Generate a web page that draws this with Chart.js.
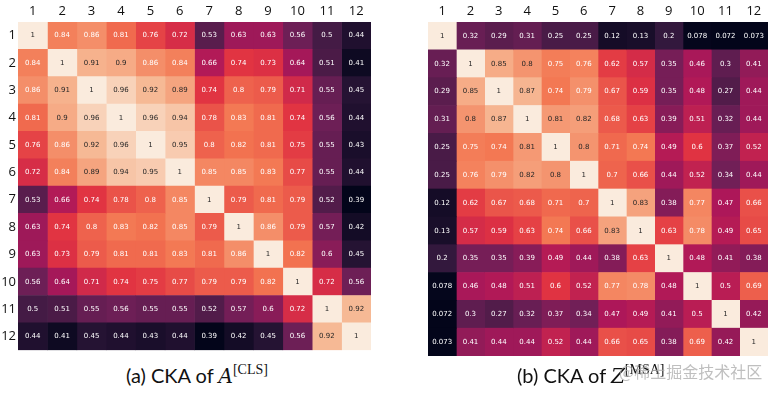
<!DOCTYPE html>
<html>
<head>
<meta charset="utf-8">
<script src="https://cdn.jsdelivr.net/npm/chart.js@4/dist/chart.umd.min.js"></script>
<style>
  body { margin: 0; background: #fff; width: 778px; height: 396px; position: relative; overflow: hidden; }
  .box { position: absolute; top: 0; width: 380px; height: 360px; }
  .cap { position: absolute; top: 362px; font-family: Lato, "Open Sans", sans-serif; font-size: 20px; color: #111; white-space: nowrap; }
  .cap i { font-family: "DejaVu Serif", "Liberation Serif", serif; font-size: 20px; }
  .cap sup { font-family: "Liberation Serif", serif; font-size: 14px; vertical-align: 9px; }
  .wm { position: absolute; top: 359px; left: 619px; font-family: "Noto Sans CJK SC", sans-serif; font-size: 16px; color: rgba(170,170,170,0.75); white-space: nowrap; }
</style>
</head>
<body>
<div class="box" style="left:0"><canvas id="cls"></canvas></div>
<div class="box" style="left:395px"><canvas id="msa"></canvas></div>
<div class="cap" style="left:126px">(a) CKA of <i>A</i><sup>[CLS]</sup></div>
<div class="cap" style="left:517px">(b) CKA of <i>Z</i><sup>[MSA]</sup></div>
<div class="wm">@稀土掘金技术社区</div>
<script>
// layer indices
const layers = ['1', '2', '3', '4', '5', '6', '7', '8', '9', '10', '11', '12'];

// CKA of A[CLS], row by row
const ckaCls = [
  [1, 0.84, 0.86, 0.81, 0.76, 0.72, 0.53, 0.63, 0.63, 0.56, 0.5, 0.44],
  [0.84, 1, 0.91, 0.9, 0.86, 0.84, 0.66, 0.74, 0.73, 0.64, 0.51, 0.41],
  [0.86, 0.91, 1, 0.96, 0.92, 0.89, 0.74, 0.8, 0.79, 0.71, 0.55, 0.45],
  [0.81, 0.9, 0.96, 1, 0.96, 0.94, 0.78, 0.83, 0.81, 0.74, 0.56, 0.44],
  [0.76, 0.86, 0.92, 0.96, 1, 0.95, 0.8, 0.82, 0.81, 0.75, 0.55, 0.43],
  [0.72, 0.84, 0.89, 0.94, 0.95, 1, 0.85, 0.85, 0.83, 0.77, 0.55, 0.44],
  [0.53, 0.66, 0.74, 0.78, 0.8, 0.85, 1, 0.79, 0.81, 0.79, 0.52, 0.39],
  [0.63, 0.74, 0.8, 0.83, 0.82, 0.85, 0.79, 1, 0.86, 0.79, 0.57, 0.42],
  [0.63, 0.73, 0.79, 0.81, 0.81, 0.83, 0.81, 0.86, 1, 0.82, 0.6, 0.45],
  [0.56, 0.64, 0.71, 0.74, 0.75, 0.77, 0.79, 0.79, 0.82, 1, 0.72, 0.56],
  [0.5, 0.51, 0.55, 0.56, 0.55, 0.55, 0.52, 0.57, 0.6, 0.72, 1, 0.92],
  [0.44, 0.41, 0.45, 0.44, 0.43, 0.44, 0.39, 0.42, 0.45, 0.56, 0.92, 1]
];

// CKA of Z[MSA], row by row
const ckaMsa = [
  [1, 0.32, 0.29, 0.31, 0.25, 0.25, 0.12, 0.13, 0.2, 0.078, 0.072, 0.073],
  [0.32, 1, 0.85, 0.8, 0.75, 0.76, 0.62, 0.57, 0.35, 0.46, 0.3, 0.41],
  [0.29, 0.85, 1, 0.87, 0.74, 0.79, 0.67, 0.59, 0.35, 0.48, 0.27, 0.44],
  [0.31, 0.8, 0.87, 1, 0.81, 0.82, 0.68, 0.63, 0.39, 0.51, 0.32, 0.44],
  [0.25, 0.75, 0.74, 0.81, 1, 0.8, 0.71, 0.74, 0.49, 0.6, 0.37, 0.52],
  [0.25, 0.76, 0.79, 0.82, 0.8, 1, 0.7, 0.66, 0.44, 0.52, 0.34, 0.44],
  [0.12, 0.62, 0.67, 0.68, 0.71, 0.7, 1, 0.83, 0.38, 0.77, 0.47, 0.66],
  [0.13, 0.57, 0.59, 0.63, 0.74, 0.66, 0.83, 1, 0.63, 0.78, 0.49, 0.65],
  [0.2, 0.35, 0.35, 0.39, 0.49, 0.44, 0.38, 0.63, 1, 0.48, 0.41, 0.38],
  [0.078, 0.46, 0.48, 0.51, 0.6, 0.52, 0.77, 0.78, 0.48, 1, 0.5, 0.69],
  [0.072, 0.3, 0.27, 0.32, 0.37, 0.34, 0.47, 0.49, 0.41, 0.5, 1, 0.42],
  [0.073, 0.41, 0.44, 0.44, 0.52, 0.44, 0.66, 0.65, 0.38, 0.69, 0.42, 1]
];

// seaborn "rocket" colormap, sampled
const rocketStops = [
  [3, 5, 26], [53, 25, 62], [112, 31, 87], [173, 23, 89],
  [225, 51, 66], [243, 118, 81], [246, 180, 143], [250, 235, 221]
];

function rocket(t) {
  t = Math.max(0, Math.min(1, t));
  const p = t * (rocketStops.length - 1);
  const i = Math.min(Math.floor(p), rocketStops.length - 2);
  const f = p - i;
  const a = rocketStops[i], b = rocketStops[i + 1];
  return a.map((c, k) => Math.round(c + (b[k] - c) * f));
}

function luminance(rgb) {
  const lin = rgb.map(c => {
    c = c / 255;
    return c <= 0.03928 ? c / 12.92 : Math.pow((c + 0.055) / 1.055, 2.4);
  });
  return 0.2126 * lin[0] + 0.7152 * lin[1] + 0.0722 * lin[2];
}

// writes the value on each cell
const cellText = {
  id: 'cellText',
  afterDatasetsDraw(chart) {
    const ctx = chart.ctx;
    ctx.save();
    ctx.font = '7px "DejaVu Sans"';
    ctx.textAlign = 'center';
    ctx.textBaseline = 'middle';
    chart.data.datasets.forEach((ds, di) => {
      chart.getDatasetMeta(di).data.forEach((bar, i) => {
        const p = ds.data[i];
        const rgb = rocket((p.v - ds.vmin) / (ds.vmax - ds.vmin));
        ctx.fillStyle = luminance(rgb) > 0.408 ? '#262626' : '#ffffff';
        const cx = (bar.x + bar.base) / 2;
        ctx.fillText(String(p.v), cx, bar.y);
      });
    });
    ctx.restore();
  }
};

function heatmap(id, matrix, showRows, pad) {
  const all = matrix.flat();
  const vmin = Math.min(...all), vmax = Math.max(...all);
  const datasets = layers.map((col, j) => ({
    label: col,
    data: matrix.map((row, i) => ({ x: 1, y: layers[i], v: row[j] })),
    vmin: vmin,
    vmax: vmax,
    backgroundColor: c => {
      const rgb = rocket((c.raw.v - vmin) / (vmax - vmin));
      return 'rgb(' + rgb.join(',') + ')';
    },
    borderWidth: 0,
    barPercentage: 1,
    categoryPercentage: 1
  }));

  const tickFont = { family: '"Open Sans", sans-serif', size: 13 };

  new Chart(document.getElementById(id), {
    type: 'bar',
    data: { labels: layers, datasets: datasets },
    options: {
      indexAxis: 'y',
      responsive: true,
      maintainAspectRatio: false,
      animation: false,
      layout: { padding: pad },
      plugins: { legend: { display: false }, tooltip: { enabled: false } },
      scales: {
        x: { type: 'linear', stacked: true, min: 0, max: 12, display: false },
        y: {
          type: 'category',
          stacked: true,
          offset: true,
          display: showRows,
          grid: { display: false, drawTicks: false },
          border: { display: false },
          ticks: { color: '#111', font: tickFont, padding: 2 },
          afterFit: s => { s.width = 18; }
        },
        top: {
          type: 'category',
          position: 'top',
          labels: layers,
          offset: true,
          grid: { display: false, drawTicks: false },
          border: { display: false },
          ticks: { color: '#111', font: tickFont, padding: 3, maxRotation: 0 },
          afterFit: s => { s.height = 22; }
        }
      }
    },
    plugins: [cellText]
  });
}

heatmap('cls', ckaCls, true, { left: 0, right: 9, top: 0, bottom: 6 });
heatmap('msa', ckaMsa, false, { left: 15, right: 7, top: 0, bottom: 4 });
</script>
</body>
</html>
